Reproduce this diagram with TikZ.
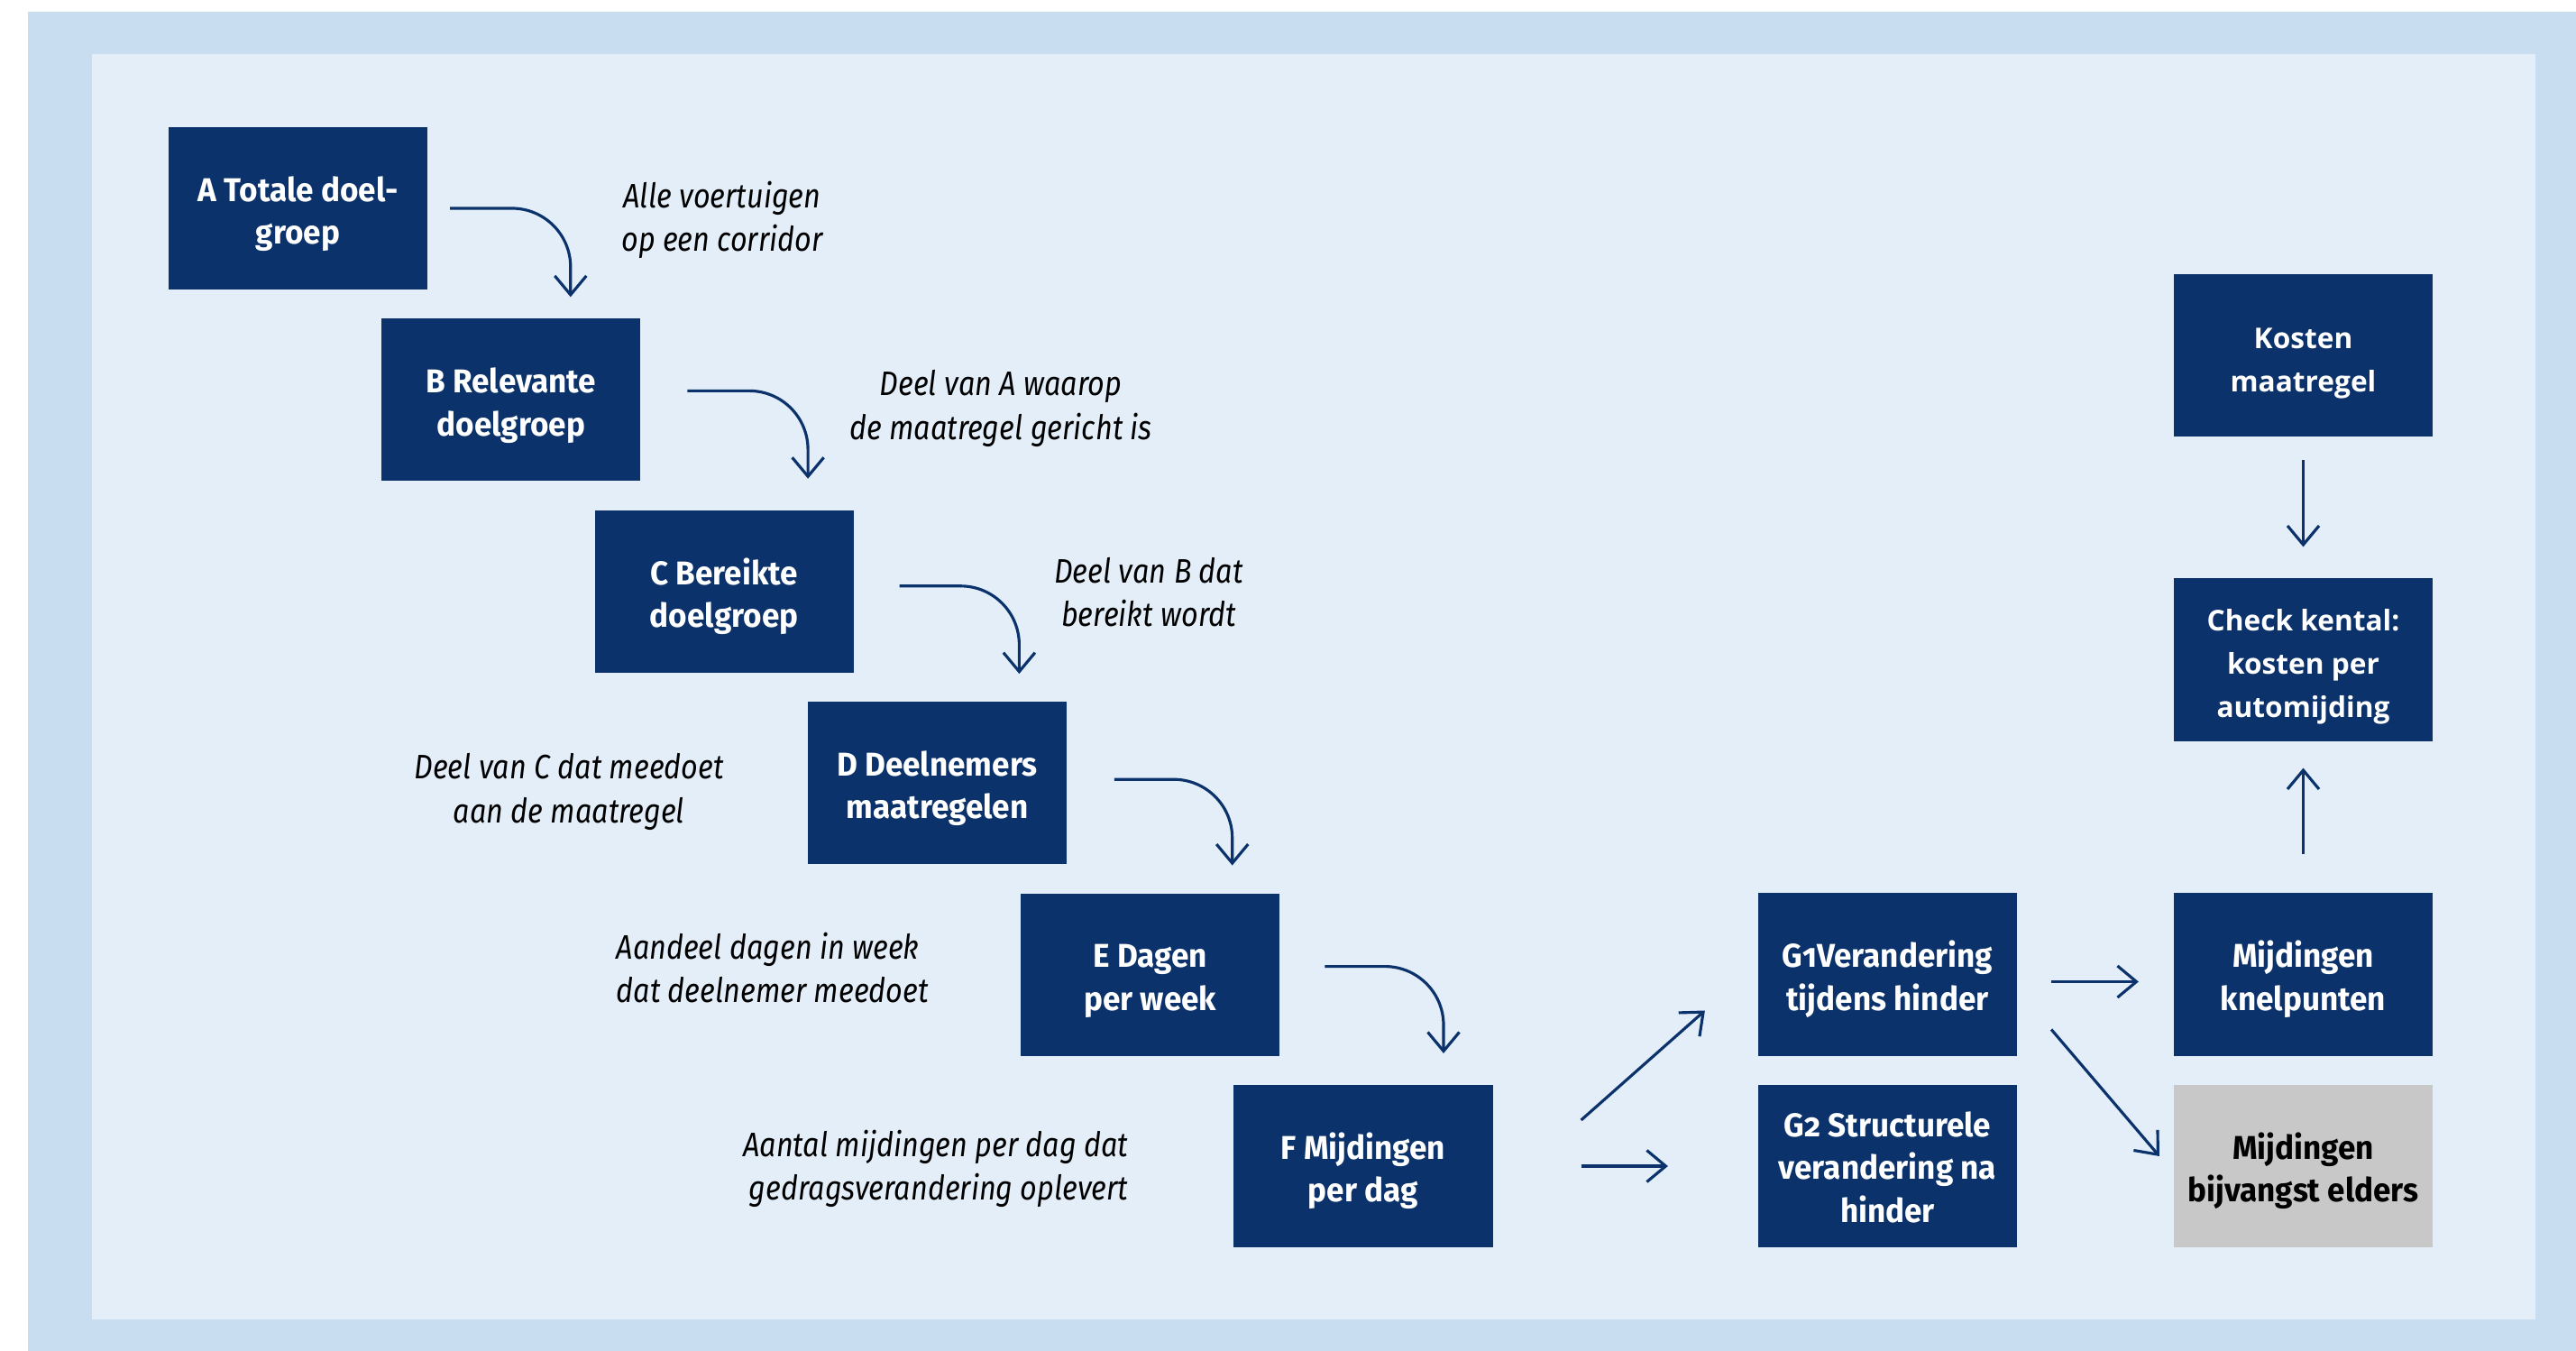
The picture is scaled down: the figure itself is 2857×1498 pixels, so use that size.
\documentclass[tikz,border=0pt]{standalone}
\usepackage{fontspec}
\setmainfont{Fira Sans}[FakeStretch=0.86]
\newfontfamily\boxfont{Fira Sans}[FakeStretch=0.96, Numbers=OldStyle]
\newfontfamily\widefont{Open Sans}
\usetikzlibrary{arrows.meta}

\definecolor{navy}{HTML}{0B326B}
\definecolor{bandblue}{HTML}{C9DDF1}
\definecolor{panelblue}{HTML}{E3EEF9}
\definecolor{boxgrey}{HTML}{C8C8C8}
\newcommand{\tstrut}{\rule{0pt}{11.4pt}}
\newcommand{\bstrut}{\rule[-3pt]{0pt}{3pt}}

\begin{document}
\begin{tikzpicture}[
	x=0.01cm, y=-0.01cm,
	>={Straight Barb[length=2.1mm,width=3.5mm]},
	flow line/.style={->, draw=navy, line width=0.9pt},
	box node/.style={fill=navy, text=white, minimum width=2.87cm, minimum height=1.8cm,
		inner sep=0pt, outer sep=0pt, align=center, font=\boxfont\bfseries\fontsize{10.4}{13.5}\selectfont},
	wide node/.style={box node, font=\widefont\bfseries\fontsize{9}{13.6}\selectfont},
	grey node/.style={box node, fill=boxgrey, text=black},
	label node/.style={align=center, inner sep=0pt, font=\itshape\fontsize{10.7}{13.7}\selectfont}
	]
	\newcommand{\bendarrow}[4]{
		\draw[flow line, rounded corners=0.65cm] ([shift={(#3)}]#1.east) -| ([shift={(#4)}]#2.north);
	}
	\useasboundingbox (0,0) rectangle (2857,1498);
	\fill[bandblue] (31,13) rectangle (2857,1498);
	\fill[panelblue] (102,60) rectangle (2812,1463);
	
	% trap van doelgroep naar mijdingen
	\node[box node] (A) at (330.5,231) {\tstrut A Totale doel-\\groep};
	\node[box node] (B) at (566.8,443.4) {\tstrut B Relevante\\doelgroep};
	\node[box node] (C) at (803.1,655.8) {\tstrut C Bereikte\\doelgroep};
	\node[box node] (D) at (1039.4,868.2) {\tstrut D Deelnemers\\maatregelen};
	\node[box node] (E) at (1275.7,1080.6) {\tstrut E Dagen\\per week};
	\node[box node] (F) at (1512,1293) {\tstrut F Mijdingen\\per dag};
	
	\node[box node] (G1) at (2093.5,1080.5) {\tstrut G1Verandering\\tijdens hinder};
	\node[box node] (G2) at (2093.5,1293) {\tstrut G2 Structurele\\verandering na\\hinder\bstrut};
	\node[box node] (knel) at (2554.5,1080.5) {\tstrut Mijdingen\\knelpunten};
	\node[grey node] (bijv) at (2554.5,1293) {\tstrut Mijdingen\\bijvangst elders};
	\node[wide node] (kosten) at (2554.5,394) {\tstrut Kosten\\maatregel};
	\node[wide node] (check) at (2554.5,731.5) {\tstrut Check kental:\\kosten per\\automijding};
	
	\node[label node] (lA) at (801,244) {Alle voertuigen\\op een corridor};
	\node[label node] (lB) at (1110,453) {Deel van A waarop\\de maatregel gericht is};
	\node[label node] (lC) at (1274,657) {Deel van B dat\\bereikt wordt};
	\node[label node] (lD) at (631,878) {Deel van C dat meedoet\\aan de maatregel};
	\node[label node, align=left, anchor=west] (lE) at (683,1073) {Aandeel dagen in week\\dat deelnemer meedoet};
	\node[label node, align=right, anchor=east] (lF) at (1252,1296) {Aantal mijdingen per dag dat\\gedragsverandering oplevert};
	
	\bendarrow{A}{B}{25,0}{66,-24}
	\bendarrow{B}{C}{52,-10}{93,-35}
	\bendarrow{C}{D}{51,-6}{91,-31}
	\bendarrow{D}{E}{53,-4}{91,-31}
	\bendarrow{E}{F}{50,-9}{89,-35}
	
	\draw[flow line] ([shift={(98,-51)}]F.east) -- ([shift={(-59,40)}]G1.west);
	\draw[flow line] ([shift={(98,0)}]F.east) -- ([shift={(-100,0)}]G2.west);
	\draw[flow line] ([shift={(38,8)}]G1.east) -- ([shift={(-39,8)}]knel.west);
	\draw[flow line] ([shift={(38,61)}]G1.east) -- ([shift={(-16,-11)}]bijv.west);
	\draw[flow line] ([shift={(0,26)}]kosten.south) -- ([shift={(0,-35)}]check.north);
	\draw[flow line] ([shift={(0,-43)}]knel.north) -- ([shift={(0,30)}]check.south);
\end{tikzpicture}
\end{document}
